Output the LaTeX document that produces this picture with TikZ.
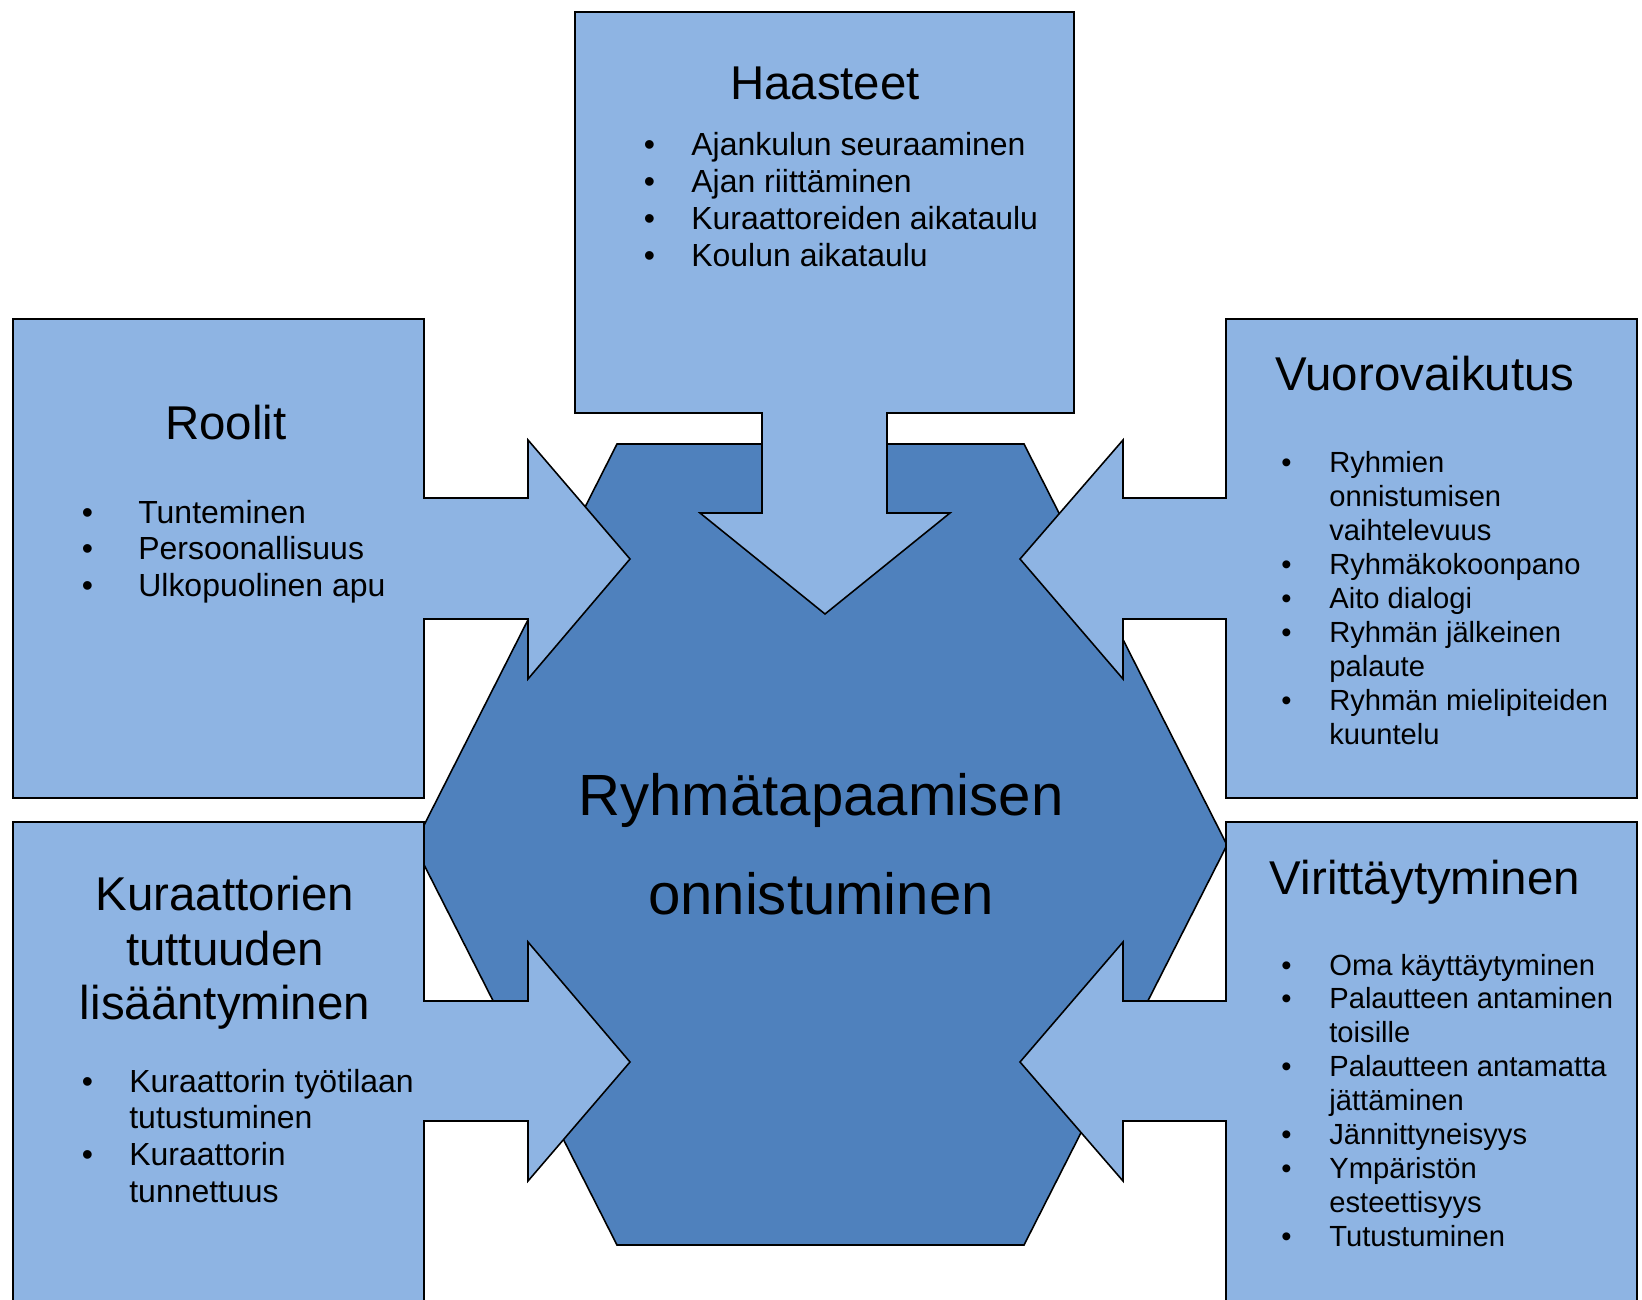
\documentclass[tikz,border=0pt]{standalone}
\usepackage{fontspec}
\setmainfont{Liberation Sans}
\usepackage{xcolor}
\definecolor{lightblue}{HTML}{8EB4E3}
\definecolor{deepblue}{HTML}{4F81BD}
\newlength{\pxu}
\setlength{\pxu}{0.02cm}
\newcommand{\bitem}[2][47.6]{\makebox[#1\pxu][l]{\textbullet}#2}
\newcommand{\bcont}[2][47.6]{\hspace*{#1\pxu}#2}

\begin{document}
\begin{tikzpicture}[x=0.02cm, y=-0.02cm,
  panel/.style={draw=black, line width=0.9pt, fill=lightblue},
  core/.style={draw=black, line width=0.9pt, fill=deepblue},
  heading/.style={font=\fontsize{27}{31.3}\selectfont, inner sep=0pt, anchor=base},
  biglist/.style={font=\fontsize{18.2}{21}\selectfont, inner sep=0pt, anchor=base west},
  smalllist/.style={font=\fontsize{16.6}{19.3}\selectfont, inner sep=0pt, anchor=base west}]
            \useasboundingbox (0,0) rectangle (1642,1300);
            \clip (0,0) rectangle (1642,1300);

            % Centre hexagon
            \draw[core] (617,444) -- (1024,444) -- (1227,845) -- (1024,1245) -- (617,1245) -- (414,845) -- cycle;

            % Boxes with their arrows
            \draw[panel] (575,12) -- (1074,12) -- (1074,413) -- (887,413) -- (887,513) -- (950,513) -- (825,614) -- (700,513) -- (762,513) -- (762,413) -- (575,413) -- cycle;
            \draw[panel] (13,319) -- (424,319) -- (424,498) -- (528,498) -- (528,440) -- (630,559) -- (528,679) -- (528,619) -- (424,619) -- (424,798) -- (13,798) -- cycle;
            \draw[panel] (1637,319) -- (1226,319) -- (1226,498) -- (1123,498) -- (1123,440) -- (1020,559) -- (1123,679) -- (1123,619) -- (1226,619) -- (1226,798) -- (1637,798) -- cycle;
            \draw[panel] (13,1320) -- (13,822) -- (424,822) -- (424,1001) -- (528,1001) -- (528,942) -- (630,1062) -- (528,1181) -- (528,1121) -- (424,1121) -- (424,1320) -- cycle;
            \draw[panel] (1637,1320) -- (1637,822) -- (1226,822) -- (1226,1001) -- (1123,1001) -- (1123,942) -- (1020,1062) -- (1123,1181) -- (1123,1121) -- (1226,1121) -- (1226,1320) -- cycle;

            % Centre text
            \node (centre) [font=\fontsize{33.1}{56.9}\selectfont, inner sep=0pt, anchor=base] at (821,815) {\begin{tabular}[t]{@{}c@{}}Ryhmätapaamisen\\onnistuminen\end{tabular}};

            % Haasteet
            \node (haasteet) [heading] at (825,100) {Haasteet};
            \node (haasteet-list) [biglist] at (643.4,156) {\begin{tabular}[t]{@{}l@{}}
              \bitem{Ajankulun seuraaminen}\\
              \bitem{Ajan riittäminen}\\
              \bitem{Kuraattoreiden aikataulu}\\
              \bitem{Koulun aikataulu}
            \end{tabular}};

            % Roolit
            \node (roolit) [heading] at (226,439) {Roolit};
            \node (roolit-list) [biglist] at (81.4,523) {\begin{tabular}[t]{@{}l@{}}
              \bitem[56.6]{Tunteminen}\\
              \bitem[56.6]{Persoonallisuus}\\
              \bitem[56.6]{Ulkopuolinen apu}
            \end{tabular}};

            % Vuorovaikutus
            \node (vuoro) [heading] at (1425,391) {Vuorovaikutus};
            \node (vuoro-list) [smalllist] at (1281,473) {\begin{tabular}[t]{@{}l@{}}
              \bitem[48]{Ryhmien}\\
              \bcont[48]{onnistumisen}\\
              \bcont[48]{vaihtelevuus}\\
              \bitem[48]{Ryhmäkokoonpano}\\
              \bitem[48]{Aito dialogi}\\
              \bitem[48]{Ryhmän jälkeinen}\\
              \bcont[48]{palaute}\\
              \bitem[48]{Ryhmän mielipiteiden}\\
              \bcont[48]{kuuntelu}
            \end{tabular}};

            % Kuraattorien tuttuuden lisääntyminen
            \node (kuraattorit) [heading] at (225,910) {\begin{tabular}[t]{@{}c@{}}Kuraattorien\\tuttuuden\\lisääntyminen\end{tabular}};
            \node (kuraattorit-list) [biglist] at (81.4,1092) {\begin{tabular}[t]{@{}l@{}}
              \bitem{Kuraattorin työtilaan}\\
              \bcont{tutustuminen}\\
              \bitem{Kuraattorin}\\
              \bcont{tunnettuus}
            \end{tabular}};

            % Virittäytyminen
            \node (viritys) [heading] at (1425,894) {Virittäytyminen};
            \node (viritys-list) [smalllist] at (1281,975) {\begin{tabular}[t]{@{}l@{}}
              \bitem[48]{Oma käyttäytyminen}\\
              \bitem[48]{Palautteen antaminen}\\
              \bcont[48]{toisille}\\
              \bitem[48]{Palautteen antamatta}\\
              \bcont[48]{jättäminen}\\
              \bitem[48]{Jännittyneisyys}\\
              \bitem[48]{Ympäristön}\\
              \bcont[48]{esteettisyys}\\
              \bitem[48]{Tutustuminen}
            \end{tabular}};
        \end{tikzpicture}
\end{document}
